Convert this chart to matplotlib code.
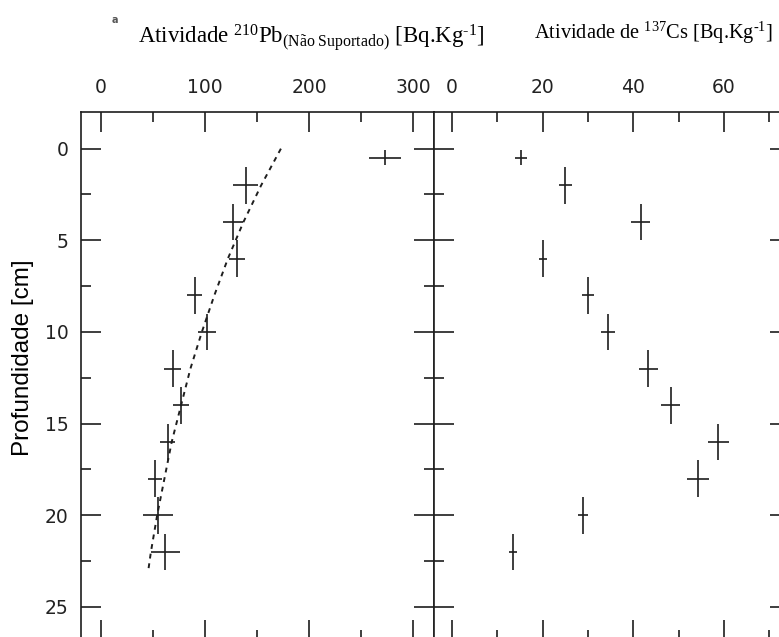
import matplotlib
matplotlib.use("Agg")
import matplotlib.pyplot as plt
from matplotlib.ticker import MultipleLocator

plt.rcParams['mathtext.fontset'] = 'custom'
plt.rcParams['mathtext.rm'] = 'Liberation Serif'
plt.rcParams['mathtext.it'] = 'Liberation Serif:italic'

# depth of each sample [cm]
depth = [0.5, 2, 4, 6, 8, 10, 12, 14, 16, 18, 20, 22]
depth_err = [0.4, 1, 1, 1, 1, 1, 1, 1, 1, 1, 1, 1]

# 210Pb unsupported activity
pb_act = [273, 139, 127, 131, 90, 102, 69, 77, 64, 52, 55, 62]
pb_err = [15, 12, 10, 7.5, 7, 8.5, 8, 7.5, 7, 6.5, 14.5, 14]

# exponential fit
fit_depth = [0, 2, 4, 6, 8, 10, 12, 14, 16, 18, 20, 22, 23]
fit_act = [173, 154, 137, 122, 109, 97, 86, 77, 68, 61, 54, 48, 45.5]

# 137Cs activity
cs_act = [15.2, 25.0, 41.6, 20.1, 30.0, 34.4, 43.3, 48.3, 58.8, 54.3, 28.9, 13.4]
cs_err = [1.3, 1.5, 2.0, 0.9, 1.4, 1.6, 2.1, 2.1, 2.4, 2.5, 1.1, 0.9]

W, H = 779, 637
fig = plt.figure(figsize=(W / 100, H / 100), dpi=100)

ink = '#1e1e1e'
top, bot = 112, 640
ax1 = fig.add_axes([81 / W, 1 - bot / H, (434 - 81) / W, (bot - top) / H])
ax2 = fig.add_axes([434 / W, 1 - bot / H, (790 - 434) / W, (bot - top) / H])

for ax in (ax1, ax2):
    ax.set_ylim(26.8, -2)
    ax.yaxis.set_major_locator(MultipleLocator(5))
    ax.yaxis.set_minor_locator(MultipleLocator(2.5))
    ax.tick_params(which='both', direction='in', top=True, bottom=True,
                   left=True, right=True, labeltop=True, labelbottom=False,
                   color=ink, width=1.2, labelcolor='#222222')
    ax.tick_params(which='major', length=14.4, labelsize=13.5, pad=11)
    ax.tick_params(which='minor', length=7.2)
    for s in ax.spines.values():
        s.set_color(ink)
        s.set_linewidth(1.2)

ax1.set_xlim(-19.2, 320.2)
ax1.xaxis.set_major_locator(MultipleLocator(100))
ax1.xaxis.set_minor_locator(MultipleLocator(50))
ax1.tick_params(axis='y', pad=9)

ax2.set_xlim(-4, 74.6)
ax2.xaxis.set_major_locator(MultipleLocator(20))
ax2.xaxis.set_minor_locator(MultipleLocator(10))
ax2.tick_params(labelleft=False)

ax1.errorbar(pb_act, depth, xerr=pb_err, yerr=depth_err, fmt='none',
             ecolor=ink, elinewidth=1.2, capsize=0)
ax1.plot(fit_act, fit_depth, color=ink, lw=1.4, dashes=(2.5, 2.5))
ax2.errorbar(cs_act, depth, xerr=cs_err, yerr=depth_err, fmt='none',
             ecolor=ink, elinewidth=1.2, capsize=0)

fig.text(23 / W, 1 - 358 / H, 'Profundidade [cm]', rotation=90,
         ha='center', va='center', fontsize=17.5, family='Liberation Sans')

fig.text(138 / W, 1 - 43 / H,
         'Atividade $^{210}$Pb$_{\\rm (Não\\ Suportado)}$ [Bq.Kg$^{\u20101}$]',
         ha='left', va='baseline', fontsize=16.4, family='Liberation Serif')
fig.text(534 / W, 1 - 39 / H,
         'Atividade de $^{137}$Cs [Bq.Kg$^{\u20101}$]',
         ha='left', va='baseline', fontsize=14.7, family='Liberation Serif')
fig.text(115 / W, 1 - 20 / H, 'a', ha='center', va='center', fontsize=7,
         color='#555555', fontweight='bold')

fig.savefig('out.png', dpi=100)
